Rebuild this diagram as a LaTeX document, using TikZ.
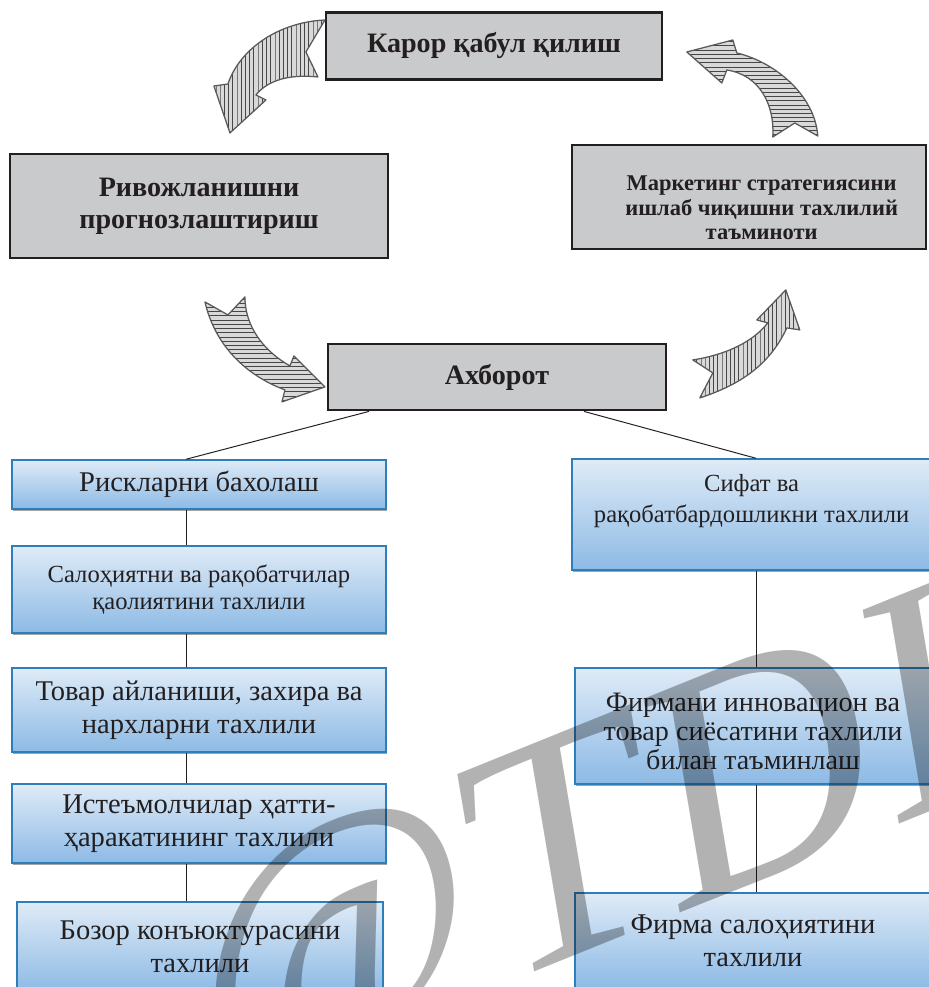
\documentclass[tikz,border=0pt]{standalone}
\usepackage{fontspec}
\setmainfont{Liberation Serif}
\usepackage{tikz}
\usetikzlibrary{shadows, patterns, calc}
\usepackage{xcolor}

\definecolor{boxgrey}{RGB}{201,202,204}
\definecolor{boxline}{RGB}{35,31,32}
\definecolor{bluetop}{RGB}{223,235,247}
\definecolor{bluebot}{RGB}{141,186,229}
\definecolor{blueline}{RGB}{46,126,186}
\definecolor{inkgrey}{RGB}{90,90,90}

\begin{document}
\begin{tikzpicture}[
  greybox/.style={draw=boxline, line width=2pt, fill=boxgrey, rectangle,
                  align=center, text=boxline, inner sep=2pt,
                  font=\fontsize{20}{23}\selectfont\bfseries},
  bluebox/.style={draw=blueline, line width=0.9pt, rectangle,
                  top color=bluetop, bottom color=bluebot,
                  drop shadow={shadow xshift=0.6pt, shadow yshift=-1.6pt,
                               fill=black!40, opacity=0.9},
                  align=center, text=boxline, inner sep=2pt,
                  font=\fontsize{20.3}{23.5}\selectfont},
  leftcol/.style={bluebox, minimum width=9.35cm},
  rightcol/.style={bluebox, minimum width=8.9cm},
  link/.style={draw=boxline, line width=0.7pt},
  hatcharrow/.style={draw=inkgrey, line width=0.9pt, line join=round,
                     preaction={fill=gray!30}, pattern color=gray!55!black},
  wmark/.style={text=black, opacity=0.3, inner sep=0pt,
                font=\fontsize{230}{230}\selectfont}
]
\useasboundingbox (0,0) rectangle (23.2,-24.675);

%% Grey boxes (decision cycle)
\node[greybox, minimum width=8.4cm, minimum height=1.675cm] (decision) at (12.35,-1.14)
    {Карор қабул қилиш};
\node[greybox, minimum width=9.45cm, minimum height=2.6cm] (forecast) at (4.975,-5.15)
    {Ривожланишни\\прогнозлаштириш};
\node[greybox, minimum width=8.85cm, minimum height=2.6cm,
      font=\fontsize{16}{17.5}\selectfont\bfseries] (strategy) at (18.725,-4.925)
    {\rule{0pt}{26pt}\hspace*{18pt}Маркетинг стратегиясини\\
     \hspace*{18pt}ишлаб чиқишни тахлилий\\\hspace*{18pt}таъминоти};
\node[greybox, minimum width=8.45cm, minimum height=1.65cm] (info) at (12.425,-9.425)
    {Ахборот};

%% Hatched curved arrows between the grey boxes
\begin{scope}[x=0.025cm, y=-0.025cm]
  % decision -> forecast
  \draw[hatcharrow, pattern=vertical lines] (325,20) .. controls (280,22) and (240,48) .. (228,84)
      -- (214,86) -- (230,133) -- (266,100) -- (256,95)
      .. controls (268,80) and (290,74) .. (318,77) -- (306,52) -- cycle;
  % strategy -> decision
  \draw[hatcharrow, pattern=horizontal lines] (687,52) -- (733,40) -- (737,53)
      .. controls (775,62) and (815,95) .. (818,136) -- (795,123) -- (773,137)
      .. controls (775,105) and (760,75) .. (727,70) -- (722,83) -- cycle;
  % forecast -> info
  \draw[hatcharrow, pattern=horizontal lines] (205,302)
      .. controls (215,345) and (245,375) .. (285,390) -- (282,402) -- (325,387)
      -- (294,356) -- (290,366) .. controls (262,350) and (245,325) .. (245,297)
      -- (228,315) -- cycle;
  % info -> strategy
  \draw[hatcharrow, pattern=vertical lines] (693,360) -- (713,373) -- (700,398)
      .. controls (740,385) and (770,365) .. (787,328) -- (800,330) -- (786,290)
      -- (757,320) -- (768,323) .. controls (752,343) and (725,355) .. (693,360) -- cycle;
\end{scope}

%% Column axes for the connectors
\coordinate (lcol) at (4.65,0);
\coordinate (rcol) at (18.9,0);

%% Left column
\node[leftcol, minimum height=1.225cm] (risk) at (4.975,-12.11)
    {Рискларни бахолаш};
\node[leftcol, minimum height=2.175cm, font=\fontsize{17.5}{19.5}\selectfont] (potential) at (4.975,-14.74)
    {Салоҳиятни ва рақобатчилар\\қаолиятини тахлили};
\node[leftcol, minimum height=2.1cm] (goods) at (4.975,-17.75)
    {Товар айланиши, захира ва\\нархларни тахлили};
\node[leftcol, minimum height=1.975cm] (consumer) at (4.975,-20.59)
    {Истеъмолчилар ҳатти-\\ҳаракатининг тахлили};
\node[bluebox, minimum width=9.15cm, minimum height=2.25cm] (market) at (5.0,-23.675)
    {Бозор конъюктурасини\\тахлили};

%% Right column
\node[rightcol, minimum width=8.975cm, minimum height=2.775cm,
      font=\fontsize{17.5}{22.5}\selectfont] (quality) at (18.79,-12.86)
    {Сифат ва\\рақобатбардошликни тахлили\\\mbox{}};
\node[rightcol, minimum height=2.9cm, font=\fontsize{20}{20.5}\selectfont] (innov) at (18.825,-18.15)
    {\rule{0pt}{21pt}Фирмани инновацион ва\\товар сиёсатини тахлили\\билан таъминлаш};
\node[rightcol, minimum height=2.375cm] (firm) at (18.825,-23.51)
    {Фирма салоҳиятини\\тахлили};

%% Connectors
\draw[link] ([xshift=-3.2cm]info.south) -- (risk.north -| lcol);
\draw[link] ([xshift=2.175cm]info.south) -- (quality.north -| rcol);
\draw[link] (risk.south -| lcol) -- (potential.north -| lcol);
\draw[link] (potential.south -| lcol) -- (goods.north -| lcol);
\draw[link] (goods.south -| lcol) -- (consumer.north -| lcol);
\draw[link] (consumer.south -| lcol) -- (market.north -| lcol);
\draw[link] (quality.south -| rcol) -- (innov.north -| rcol);
\draw[link] (innov.south -| rcol) -- (firm.north -| rcol);

%% Watermark
\node[wmark, rotate=22, xslant=0.22, anchor=base west] (stamp) at (5.3,-27.55) {@TDI};

\end{tikzpicture}
\end{document}
